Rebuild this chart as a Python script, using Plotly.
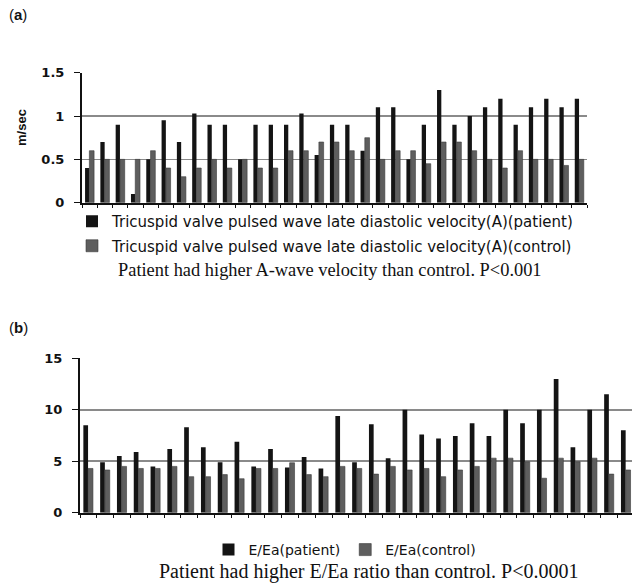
import plotly.graph_objects as go

# ---------------- data ----------------
subjects = list(range(1, 34))

a_patient = [0.4, 0.7, 0.9, 0.1, 0.5, 0.95, 0.7, 1.03, 0.9, 0.9, 0.5, 0.9, 0.9, 0.9, 1.03, 0.55,
             0.9, 0.9, 0.6, 1.1, 1.1, 0.5, 0.9, 1.3, 0.9, 1.0, 1.1, 1.2, 0.9, 1.1, 1.2, 1.1, 1.2]
a_control = [0.6, 0.5, 0.5, 0.5, 0.6, 0.4, 0.3, 0.4, 0.5, 0.4, 0.5, 0.4, 0.4, 0.6, 0.6, 0.7,
             0.7, 0.6, 0.75, 0.5, 0.6, 0.6, 0.45, 0.7, 0.7, 0.6, 0.5, 0.4, 0.6, 0.5, 0.5, 0.43, 0.5]

b_patient = [8.5, 4.9, 5.5, 5.9, 4.5, 6.2, 8.3, 6.35, 4.9, 6.9, 4.5, 6.2, 4.4, 5.4, 4.3,
             9.4, 4.9, 8.6, 5.3, 10.0, 7.6, 7.2, 7.45, 8.7, 7.45, 10.0, 8.7, 10.0, 13.0, 6.35, 10.0, 11.5, 8.0]
b_control = [4.3, 4.15, 4.5, 4.3, 4.3, 4.5, 3.5, 3.5, 3.7, 3.3, 4.3, 4.3, 4.85, 3.7, 3.5,
             4.5, 4.3, 3.75, 4.5, 4.15, 4.3, 3.5, 4.15, 4.5, 5.3, 5.3, 4.95, 3.35, 5.3, 4.95, 5.3, 3.75, 4.15]

a_ticks = [0, 0.5, 1, 1.5]
a_tick_text = ["0", "0.5", "1", "1.5"]
b_ticks = [0, 5, 10, 15]
b_tick_text = ["0", "5", "10", "15"]

a_names = ["Tricuspid valve pulsed wave late diastolic velocity(A)(patient)",
           "Tricuspid valve pulsed wave late diastolic velocity(A)(control)"]
b_names = ["E/Ea(patient)", "E/Ea(control)"]
a_caption = "Patient had higher A-wave velocity than control. P<0.001"
b_caption = "Patient had higher E/Ea ratio than control. P<0.0001"

# ---------------- layout helpers ----------------
W, H = 632, 587
def fx(p):
    return p / W
def fy(p):
    return 1 - p / H

DARK = "#141414"
GREY = "#5e5e5e"

fig = go.Figure()

fig.add_bar(x=subjects, y=a_patient, name=a_names[0], marker=dict(color=DARK, line=dict(width=0)),
            offset=-0.30, width=0.28, xaxis="x", yaxis="y", legend="legend", legendgroup="a1")
fig.add_bar(x=subjects, y=a_control, name=a_names[1], marker=dict(color=GREY, line=dict(color="#3a3a3a", width=0.6)),
            offset=-0.02, width=0.31, xaxis="x", yaxis="y", legend="legend", legendgroup="a2")
fig.add_bar(x=subjects, y=b_patient, name=b_names[0], marker=dict(color=DARK, line=dict(width=0)),
            offset=-0.30, width=0.28, xaxis="x2", yaxis="y2", legend="legend2")
fig.add_bar(x=subjects, y=b_control, name=b_names[1], marker=dict(color=GREY, line=dict(color="#3a3a3a", width=0.6)),
            offset=-0.02, width=0.29, xaxis="x2", yaxis="y2", legend="legend2")

tickfont = dict(family="DejaVu Sans", size=13, color="#111", weight="bold")

common_x = dict(showgrid=False, zeroline=False, showticklabels=False, showline=True,
                linecolor="#111", linewidth=2, ticks="outside", ticklen=3, tickcolor="#111",
                tickmode="linear", tick0=0.5, dtick=1, automargin=False)
common_y = dict(showgrid=True, gridcolor="#8a8a8a", gridwidth=1.6, zeroline=False, showline=True,
                linecolor="#111", linewidth=2, ticks="outside", ticklen=6, tickcolor="#111",
                tickfont=tickfont, ticklabelstandoff=7, automargin=False)

fig.update_layout(
    template="none",
    width=W, height=H,
    margin=dict(l=0, r=0, t=0, b=0, pad=0, autoexpand=False),
    paper_bgcolor="white", plot_bgcolor="white",
    barmode="overlay",
    showlegend=True,
    hovermode=False,
    xaxis=dict(domain=[fx(82), fx(587)], range=[0.5, 33.5], anchor="y", **common_x),
    yaxis=dict(domain=[fy(202.7), fy(72.7)], range=[0, 1.5], tickvals=a_ticks, ticktext=a_tick_text,
               anchor="x", **common_y),
    xaxis2=dict(domain=[fx(80), 1.0], range=[0.5, 0.5 + 552 / 16.8], anchor="y2", **common_x),
    yaxis2=dict(domain=[fy(512.7), fy(358.3)], range=[0, 15], tickvals=b_ticks, ticktext=b_tick_text,
                anchor="x2", **common_y),
    legend=dict(x=fx(72), y=fy(205), xanchor="left", yanchor="top", orientation="v",
                font=dict(family="DejaVu Sans", size=15, color="#111"),
                bgcolor="rgba(0,0,0,0)", tracegroupgap=2, itemclick=False),
    legend2=dict(x=fx(345), y=fy(550), xanchor="center", yanchor="middle", orientation="h",
                 font=dict(family="DejaVu Sans", size=14, color="#111"),
                 bgcolor="rgba(0,0,0,0)", itemclick=False),
    annotations=[
        dict(text="(<b>a</b>)", x=fx(7), y=fy(14), xref="paper", yref="paper", showarrow=False,
             xanchor="left", yanchor="middle", font=dict(family="Liberation Sans", size=15, color="#111")),
        dict(text="(<b>b</b>)", x=fx(7), y=fy(327), xref="paper", yref="paper", showarrow=False,
             xanchor="left", yanchor="middle", font=dict(family="Liberation Sans", size=15, color="#111")),
        dict(text="m/sec", x=fx(22), y=fy(128), xref="paper", yref="paper", showarrow=False, textangle=-90,
             xanchor="center", yanchor="middle", font=dict(family="Liberation Sans", size=13, color="#111", weight="bold")),
        dict(text=a_caption, x=fx(330), y=fy(270), xref="paper", yref="paper", showarrow=False,
             xanchor="center", yanchor="middle", font=dict(family="Liberation Serif", size=18.4, color="#111")),
        dict(text=b_caption, x=fx(369), y=fy(571), xref="paper", yref="paper", showarrow=False,
             xanchor="center", yanchor="middle", font=dict(family="Liberation Serif", size=20, color="#111")),
    ],
)

fig.write_html("out.html", config={"displayModeBar": False, "staticPlot": True},
               post_script="document.body.style.margin='0';")
